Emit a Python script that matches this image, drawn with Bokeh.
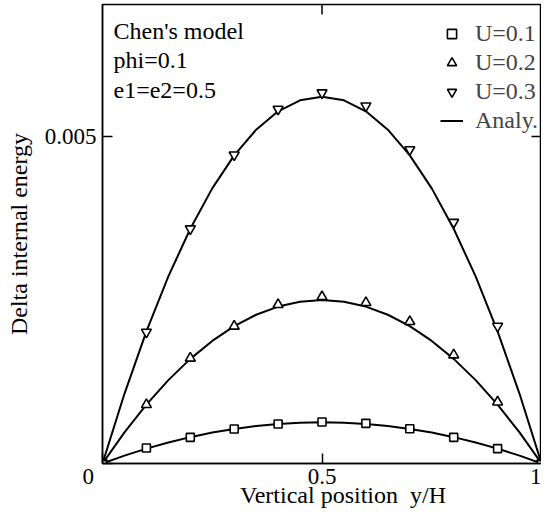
from bokeh.plotting import figure
from bokeh.models import Range1d, FixedTicker, Legend, LegendItem, Label
from bokeh.embed import file_html
from bokeh.resources import INLINE

# ---- data ----
y_pos = [0.0, 0.1, 0.2, 0.3, 0.4, 0.5, 0.6, 0.7, 0.8, 0.9, 1.0]
u01 = [0.0, 0.000236, 0.000400, 0.000527, 0.000603, 0.000634, 0.000614, 0.000532, 0.000400, 0.000228, 0.0]
u02 = [0.0, 0.00090, 0.00161, 0.00210, 0.00243, 0.00255, 0.00246, 0.00217, 0.00166, 0.00094, 0.0]
u03 = [0.0, 0.00201, 0.00359, 0.00472, 0.00542, 0.00567, 0.00547, 0.00480, 0.00369, 0.00210, 0.0]

y_fine = [0.0, 0.05, 0.1, 0.15, 0.2, 0.25, 0.3, 0.35, 0.4, 0.45, 0.5,
          0.55, 0.6, 0.65, 0.7, 0.75, 0.8, 0.85, 0.9, 0.95, 1.0]
an01 = [0.0, 0.000120, 0.000227, 0.000321, 0.000403, 0.000473, 0.000529, 0.000573, 0.000605, 0.000624, 0.000630,
        0.000624, 0.000605, 0.000573, 0.000529, 0.000473, 0.000403, 0.000321, 0.000227, 0.000120, 0.0]
an02 = [0.0, 0.000475, 0.000900, 0.001275, 0.001600, 0.001875, 0.002100, 0.002275, 0.002400, 0.002475, 0.002500,
        0.002475, 0.002400, 0.002275, 0.002100, 0.001875, 0.001600, 0.001275, 0.000900, 0.000475, 0.0]
an03 = [0.0, 0.001066, 0.002020, 0.002861, 0.003590, 0.004208, 0.004712, 0.005105, 0.005386, 0.005554, 0.005610,
        0.005554, 0.005386, 0.005105, 0.004712, 0.004208, 0.003590, 0.002861, 0.002020, 0.001066, 0.0]

X_START, X_END = 0.0, 1.0
Y_START, Y_END = 0.0, 0.00702
x_ticks = [0, 0.5, 1]
x_tick_labels = {0: "0\u00a0\u00a0\u00a0\u00a0\u00a0", 0.5: "0.5", 1: "1"}
y_ticks = [0, 0.005]
y_tick_labels = {0: "\u00a0", 0.005: "0.005"}
x_title = "\u00a0" * 7 + "Vertical position\u00a0\u00a0y/H"
y_title = "Delta internal energy"
notes = ["Chen's model", "phi=0.1", "e1=e2=0.5"]
series_labels = ["U=0.1", "U=0.2", "U=0.3", "Analy."]

FONT = "Liberation Serif"

p = figure(width=541, height=510, output_backend="svg", toolbar_location=None,
           x_range=Range1d(X_START, X_END), y_range=Range1d(Y_START, Y_END),
           min_border_left=102, min_border_right=0, min_border_top=4, min_border_bottom=44,
           x_axis_label=x_title, y_axis_label=y_title)
p.grid.visible = False
p.background_fill_color = "white"
p.border_fill_color = "white"
p.outline_line_color = "black"
p.outline_line_width = 1.5

for ax in (p.xaxis[0], p.yaxis[0]):
    ax.major_tick_in = 10
    ax.major_tick_out = 0
    ax.minor_tick_in = 0
    ax.minor_tick_out = 0
    ax.axis_line_color = "black"
    ax.axis_line_width = 1.5
    ax.major_tick_line_color = "black"
    ax.major_tick_line_width = 1.5
    ax.major_label_text_font = FONT
    ax.major_label_text_color = "black"
    ax.major_label_text_font_size = "23px"
    ax.axis_label_text_font = FONT
    ax.axis_label_text_font_size = "24px"
    ax.axis_label_text_font_style = "normal"
    ax.axis_label_text_color = "black"

xa = p.xaxis[0]
xa.ticker = FixedTicker(ticks=x_ticks)
xa.major_label_overrides = x_tick_labels
xa.major_label_standoff = 0
xa.axis_label_standoff = -10

ya = p.yaxis[0]
ya.ticker = FixedTicker(ticks=y_ticks)
ya.major_label_overrides = y_tick_labels
ya.major_label_standoff = 6
ya.axis_label_standoff = 10

# inward ticks on the top and right frame edges (half of each dash is clipped by the frame)
p.scatter(x=[x_ticks[1]], y=[Y_END], marker="dash", angle=1.5708, size=20,
          line_color="black", line_width=1.5)
p.scatter(x=[X_END], y=[y_ticks[1]], marker="dash", size=20,
          line_color="black", line_width=1.5)

# analytic curves
l1 = p.line(y_fine, an01, line_color="black", line_width=2)
p.line(y_fine, an02, line_color="black", line_width=2)
p.line(y_fine, an03, line_color="black", line_width=2)

# simulation markers
s1 = p.scatter(y_pos, u01, marker="square", size=8, fill_color="white",
               line_color="black", line_width=1.6)
s2 = p.scatter(y_pos, u02, marker="triangle", size=10, fill_color="white",
               line_color="black", line_width=1.6)
s3 = p.scatter(y_pos, u03, marker="inverted_triangle", size=10, fill_color="white",
               line_color="black", line_width=1.6)

legend = Legend(items=[LegendItem(label=series_labels[0], renderers=[s1]),
                       LegendItem(label=series_labels[1], renderers=[s2]),
                       LegendItem(label=series_labels[2], renderers=[s3]),
                       LegendItem(label=series_labels[3], renderers=[l1])],
                location=(338, 328), margin=0, padding=10, spacing=0,
                glyph_width=23, glyph_height=29, label_height=29, label_standoff=12,
                label_text_font=FONT, label_text_font_size="24px",
                border_line_color=None, background_fill_alpha=0)
p.add_layout(legend)

# notes in upper-left
for i, t in enumerate(notes):
    p.add_layout(Label(x=X_START, y=Y_END, x_offset=11, y_offset=-13 - 29.5 * i, text=t,
                       text_font=FONT, text_font_size="24px", text_color="black",
                       text_baseline="top", text_align="left"))

open("out.html", "w").write(file_html(p, INLINE))
